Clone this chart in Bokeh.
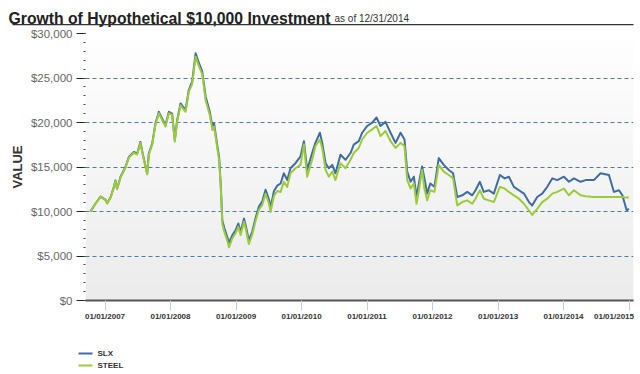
import numpy as np
import pandas as pd
from bokeh.plotting import figure
from bokeh.core.properties import value
from bokeh.models import Range1d, FixedTicker, NumeralTickFormatter
from bokeh.embed import file_html
from bokeh.resources import INLINE

# ---------------- data ----------------
dates = [
    "2006-10-12", "2006-11-08", "2006-12-07", "2007-01-04", "2007-01-13", "2007-02-01",
    "2007-02-19", "2007-02-28", "2007-03-09", "2007-03-28", "2007-04-25", "2007-05-14",
    "2007-06-11", "2007-06-29", "2007-07-17", "2007-07-30", "2007-08-24", "2007-09-02",
    "2007-09-21", "2007-10-09", "2007-10-28", "2007-11-15", "2007-12-04", "2007-12-23",
    "2008-01-10", "2008-01-25", "2008-02-07", "2008-02-26", "2008-03-25", "2008-04-12",
    "2008-05-01", "2008-05-20", "2008-06-08", "2008-06-26", "2008-07-15", "2008-08-07",
    "2008-08-22", "2008-08-31", "2008-09-19", "2008-09-28", "2008-10-07", "2008-10-16",
    "2008-10-26", "2008-11-13", "2008-11-22", "2008-12-11", "2008-12-29", "2009-01-13",
    "2009-01-26", "2009-02-14", "2009-02-23", "2009-03-13", "2009-04-01", "2009-04-19",
    "2009-05-08", "2009-05-27", "2009-06-14", "2009-07-03", "2009-07-12", "2009-07-31",
    "2009-08-18", "2009-09-06", "2009-09-24", "2009-10-13", "2009-10-31", "2009-11-28",
    "2009-12-26", "2010-01-14", "2010-02-01", "2010-03-01", "2010-03-19", "2010-04-13",
    "2010-04-26", "2010-05-15", "2010-06-02", "2010-06-21", "2010-07-09", "2010-08-06",
    "2010-09-03", "2010-10-01", "2010-10-19", "2010-11-16", "2010-12-05", "2011-01-02",
    "2011-01-30", "2011-02-23", "2011-03-17", "2011-04-14", "2011-05-12", "2011-06-09",
    "2011-07-07", "2011-07-29", "2011-08-13", "2011-09-01", "2011-09-19", "2011-10-04",
    "2011-10-17", "2011-11-04", "2011-11-17", "2011-12-02", "2011-12-20", "2012-01-12",
    "2012-02-05", "2012-03-04", "2012-04-01", "2012-04-25", "2012-05-18", "2012-06-15",
    "2012-07-13", "2012-08-10", "2012-08-28", "2012-09-21", "2012-10-13", "2012-11-10",
    "2012-12-08", "2013-01-11", "2013-02-06", "2013-03-02", "2013-03-30", "2013-04-27",
    "2013-05-25", "2013-06-22", "2013-07-10", "2013-08-07", "2013-09-04", "2013-10-02",
    "2013-10-30", "2013-11-27", "2014-01-03", "2014-01-31", "2014-02-28", "2014-04-06",
    "2014-05-04", "2014-06-19", "2014-07-26", "2014-09-11", "2014-10-09", "2014-11-06",
    "2014-11-25", "2014-12-19", "2014-12-31",
]

slx_values = [
    10000, 10870, 11690, 11300, 10940, 11600,
    12750, 13500, 12560, 13870, 15000, 16130,
    16690, 16500, 17820, 16500, 14250, 16500,
    17630, 19890, 21200, 20450, 19700, 21200,
    21000, 18000, 20260, 22140, 21390, 23650,
    24590, 27780, 26660, 25720, 22900, 21200,
    19510, 19890, 17260, 16130, 13120, 8980,
    8230, 7100, 6500, 7350, 7900, 8650,
    7700, 9200, 8450, 6750, 7750, 9250,
    10550, 11150, 12450, 11350, 10400, 12300,
    12900, 13150, 14290, 13530, 14860, 15430,
    16190, 17900, 14670, 16570, 17710, 18850,
    17710, 15430, 14860, 15240, 14290, 16380,
    15810, 16570, 17520, 17900, 18850, 19610,
    19990, 20560, 19610, 20070, 18850, 17710,
    18850, 18090, 14480, 13340, 13910, 11630,
    13150, 15050, 13720, 12010, 13150, 12770,
    16000, 15240, 14670, 14290, 11630, 11820,
    12200, 11820, 12390, 13340, 12200, 12390,
    12010, 14100, 13720, 13910, 12770, 12390,
    12010, 11060, 10680, 11630, 12010, 12770,
    13720, 13530, 13910, 13340, 13720, 13340,
    13530, 13530, 14290, 14100, 12200, 12390,
    11820, 10110, 10300,
]

steel_values = [
    10000, 10850, 11650, 11280, 10900, 11560,
    12700, 13450, 12500, 13800, 14950, 16050,
    16600, 16400, 17700, 16400, 14150, 16400,
    17500, 19750, 21050, 20300, 19550, 21050,
    20850, 17850, 20100, 21950, 21200, 23450,
    24350, 27400, 26300, 25400, 22500, 20850,
    19150, 19550, 16950, 15800, 12800, 8600,
    7800, 6700, 5980, 7000, 7550, 8300,
    7350, 8850, 8100, 6350, 7400, 8900,
    10200, 10750, 12000, 10900, 9950, 11750,
    12300, 12200, 13340, 12770, 14290, 14860,
    15240, 17520, 13910, 15810, 17330, 18090,
    17140, 14670, 13910, 14480, 13530, 15430,
    14860, 15810, 16570, 17140, 18090, 18850,
    19230, 19610, 18470, 19040, 17900, 17140,
    17710, 17330, 13530, 12580, 13150, 10870,
    12390, 14670, 12580, 11250, 12390, 12200,
    15240, 14480, 14100, 13720, 10680, 11060,
    11250, 10870, 11440, 12390, 11440, 11250,
    11060, 12770, 12580, 12200, 11820, 11440,
    10870, 10110, 9620, 10300, 11060, 11440,
    12010, 12200, 12580, 11820, 12390, 11820,
    11710, 11630, 11630, 11630, 11630, 11630,
    11630, 11560, 11560,
]

series_names = ["SLX", "STEEL"]
series_colors = ["#3E6CA3", "#9CCB3A"]
x_tick_dates = ["2007-01-01", "2008-01-01", "2009-01-01", "2010-01-01", "2011-01-01",
                "2012-01-01", "2013-01-01", "2014-01-01", "2015-01-01"]
x_tick_labels = ["01/01/2007", "01/01/2008", "01/01/2009", "01/01/2010", "01/01/2011",
                 "01/01/2012", "01/01/2013", "01/01/2014", "01/01/2015"]
y_ticks = [0, 5000, 10000, 15000, 20000, 25000, 30000]
y_minor_ticks = [v for v in range(0, 30001, 1000)]
title_text = "Growth of Hypothetical $10,000 Investment"
subtitle_text = "as of 12/31/2014"
y_axis_title = "VALUE"
x_start, x_end = "2006-09-14", "2015-01-26"
y_start, y_end = 0, 30000

# ---------------- layout ----------------
W, H = 640, 374
FL, FR, FT, FB = 85, 7, 33, 74
frame_w = W - FL - FR
frame_h = H - FT - FB
FONT = "Liberation Sans"


def ms(d):
    return int(pd.Timestamp(d).value // 10**6)


x = pd.to_datetime(dates)
x0, x1 = ms(x_start), ms(x_end)
px_x = (x1 - x0) / frame_w          # data units per screen pixel (x)
px_y = (y_end - y_start) / frame_h  # data units per screen pixel (y)

p = figure(width=W, height=H, x_axis_type="datetime",
           x_range=Range1d(x0, x1), y_range=Range1d(y_start, y_end),
           output_backend="svg", toolbar_location=None, title=None,
           min_border_left=FL, min_border_right=FR,
           min_border_top=FT, min_border_bottom=FB)
p.outline_line_color = None

# plot-area vertical gradient (white -> light gray)
n = 64
shade = np.linspace(236, 255, n).astype(np.uint8)  # bottom -> top
img = np.empty((n, 1), dtype=np.uint32)
view = img.view(dtype=np.uint8).reshape((n, 1, 4))
view[:, 0, 0] = shade
view[:, 0, 1] = shade
view[:, 0, 2] = shade
view[:, 0, 3] = 255
p.image_rgba(image=[img], x=x0, y=y_start, dw=x1 - x0, dh=y_end - y_start, level="image")

r_slx = p.line(x, slx_values, line_color=series_colors[0], line_width=2, line_join="round")
r_steel = p.line(x, steel_values, line_color=series_colors[1], line_width=2, line_join="round")

# grid
p.xgrid.visible = False
p.ygrid.grid_line_color = "#4F7AAB"
p.ygrid.grid_line_dash = "4 3"
p.ygrid.grid_line_width = 1

# x axis
tick_ms = [ms(d) for d in x_tick_dates]
xa = p.xaxis[0]
xa.ticker = FixedTicker(ticks=tick_ms, minor_ticks=[])
xa.major_label_overrides = {t: (lab if i < len(tick_ms) - 1 else "")
                            for i, (t, lab) in enumerate(zip(tick_ms, x_tick_labels))}
xa.axis_line_color = "#555555"
xa.axis_line_width = 2
xa.major_tick_out = 10
xa.major_tick_in = 0
xa.major_tick_line_color = "#C0D0E0"
xa.minor_tick_line_color = None
xa.major_label_standoff = 1
xa.major_label_text_font = FONT
xa.major_label_text_font_size = "8px"
xa.major_label_text_font_style = "bold"
xa.major_label_text_color = "#333333"

# last tick label: right-aligned so it stays inside the chart, as in the reference
p.text(x=[tick_ms[-1]], y=[y_start], text=[x_tick_labels[-1]],
       x_offset=5, y_offset=11, text_align="right", text_baseline="top",
       text_font=value(FONT), text_font_size=value("8px"),
       text_font_style=value("bold"), text_color="#333333", level="overlay")

# y axis
ya = p.yaxis[0]
ya.ticker = FixedTicker(ticks=y_ticks, minor_ticks=y_minor_ticks)
ya.formatter = NumeralTickFormatter(format="$0,0")
ya.axis_line_color = None
ya.major_tick_out = 9
ya.major_tick_in = 0
ya.major_tick_line_color = "#222222"
ya.minor_tick_out = 2
ya.minor_tick_in = 0
ya.minor_tick_line_color = "#444444"
ya.major_label_standoff = 4
ya.major_label_text_font = FONT
ya.major_label_text_font_size = "11.5px"
ya.major_label_text_color = "#666666"
ya.axis_label = y_axis_title
ya.axis_label_text_font = FONT
ya.axis_label_text_font_size = "13px"
ya.axis_label_text_font_style = "bold"
ya.axis_label_text_color = "#333333"
ya.axis_label_standoff = 3

# title, subtitle and the rule under them (drawn above the plot area)
p.text(x=[x0], y=[y_end], text=[title_text], x_offset=-(FL - 8), y_offset=-(FT - 17.5),
       text_align="left", text_baseline="alphabetic",
       text_font=value(FONT), text_font_size=value("15.75px"),
       text_font_style=value("bold"), text_color="#222222", level="overlay")
p.text(x=[x0], y=[y_end], text=[subtitle_text], x_offset=334 - FL, y_offset=-(FT - 17.5),
       text_align="left", text_baseline="alphabetic",
       text_font=value(FONT), text_font_size=value("10px"),
       text_color="#333333", level="overlay")
p.quad(left=[x0 - (FL - 12) * px_x], right=[x1],
       bottom=[y_end + (FT - 24.8) * px_y], top=[y_end + (FT - 23.5) * px_y],
       fill_color="#333333", line_color=None, level="overlay")

# series legend below the chart (line sample + bold label)
leg_rows = [353, 365]  # page rows of the legend entries
leg_dy = [r - (H - FB) for r in leg_rows]
p.segment(x0=[x0 - 7 * px_x] * 2, x1=[x0 + 7 * px_x] * 2,
          y0=[y_start - d * px_y for d in leg_dy], y1=[y_start - d * px_y for d in leg_dy],
          line_color=series_colors, line_width=2, level="overlay")
p.text(x=[x0] * 2, y=[y_start] * 2, text=series_names, x_offset=12, y_offset=leg_dy,
       text_align="left", text_baseline="middle",
       text_font=value(FONT), text_font_size=value("8px"),
       text_font_style=value("bold"), text_color="#333333", level="overlay")

open("out.html", "w").write(file_html(p, INLINE))
